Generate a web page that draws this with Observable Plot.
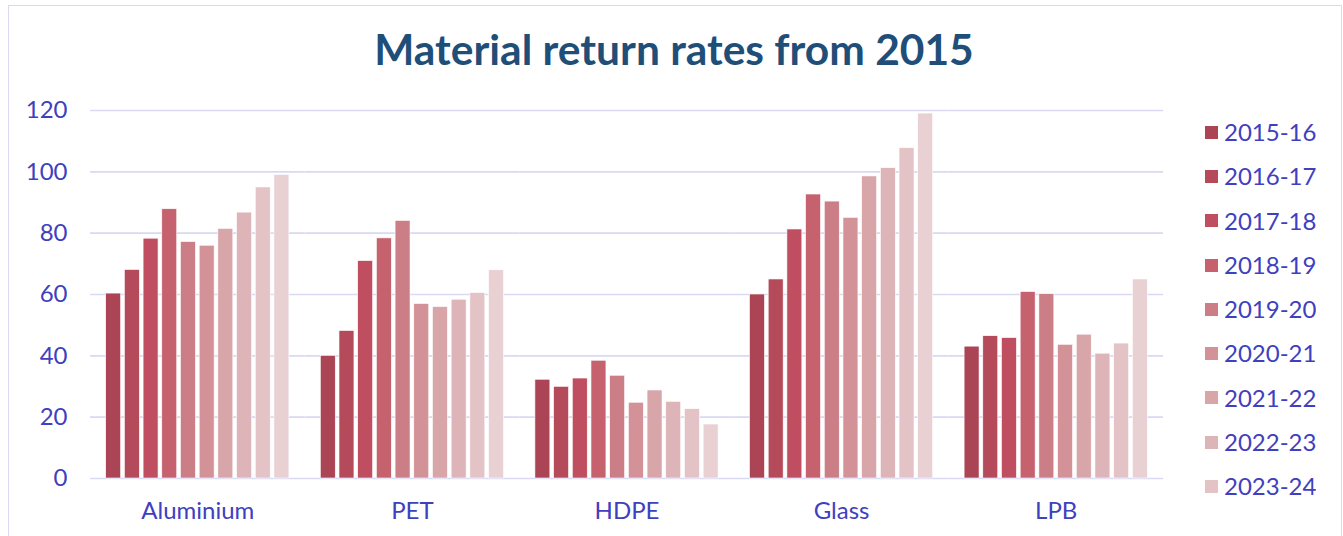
<!DOCTYPE html>
<html>
<head>
<meta charset="utf-8">
<script src="https://cdn.jsdelivr.net/npm/d3@7"></script>
<script src="https://cdn.jsdelivr.net/npm/@observablehq/plot@0.6"></script>
<style>
  html, body { margin: 0; padding: 0; background: #fff; }
  #wrap { position: relative; width: 1343px; height: 536px; overflow: hidden; font-family: Lato, "Open Sans", sans-serif; }
  #border { position: absolute; left: 8px; top: 5px; width: 1334px; height: 620px; border: 1.5px solid #d9d9f3; box-sizing: border-box; }
  #title { position: absolute; left: 0; top: 23px; width: 1348px; text-align: center; font-weight: 700; font-size: 42.5px; line-height: 1.2; color: #1f4e79; }
  #chart { position: absolute; left: 0; top: 0; }
  #legend { position: absolute; left: 1205px; top: 110px; height: 400px; overflow: hidden; }
  .item { display: flex; align-items: center; height: 44.3px; font-size: 24px; line-height: 44.3px; color: #4040bf; white-space: nowrap; }
  .sw { width: 13px; height: 13px; margin-right: 6px; flex: none; }
</style>
</head>
<body>
<div id="wrap">
  <div id="border"></div>
  <div id="chart"></div>
  <div id="title">Material return rates from 2015</div>
  <div id="legend"></div>
</div>
<script>
const categories = ["Aluminium", "PET", "HDPE", "Glass", "LPB"];
const years = ["2015-16", "2016-17", "2017-18", "2018-19", "2019-20", "2020-21", "2021-22", "2022-23", "2023-24", "2024-25"];
const aluminium = [60.3, 68.0, 78.2, 87.8, 77.1, 75.9, 81.4, 86.7, 94.9, 99.0];
const pet       = [40.0, 48.1, 70.9, 78.3, 84.0, 56.9, 55.9, 58.3, 60.5, 67.9];
const hdpe      = [32.2, 29.9, 32.6, 38.4, 33.5, 24.7, 28.7, 25.0, 22.6, 17.6];
const glass     = [60.0, 64.9, 81.2, 92.6, 90.3, 85.0, 98.5, 101.2, 107.7, 119.0];
const lpb       = [43.0, 46.4, 45.8, 60.8, 60.1, 43.6, 46.9, 40.7, 44.0, 64.9];
const colors = ["#ab4555", "#b44a5a", "#bf4f60", "#c6616e", "#cb7e86", "#d39298", "#d8a5a9", "#ddb4b8", "#e3c3c6", "#e8d0d3"];
const yTicks = [0, 20, 40, 60, 80, 100, 120];

const series = [aluminium, pet, hdpe, glass, lpb];
const data = categories.flatMap((c, i) => years.map((y, j) => ({category: c, year: y, value: series[i][j]})));

const chart = Plot.plot({
  width: 1343,
  height: 536,
  marginTop: 110,
  marginBottom: 58,
  marginLeft: 90,
  marginRight: 180,
  style: {fontFamily: "Lato, sans-serif", fontSize: "24px", color: "#4040bf", background: "transparent"},
  fx: {domain: categories, padding: 0, round: false, axis: "bottom", label: null, tickSize: 0, tickPadding: 23},
  x: {domain: years, paddingInner: 0.2, paddingOuter: 0.84, round: false, axis: null},
  y: {domain: [0, 120], ticks: yTicks, tickSize: 0, tickPadding: 23, label: null},
  color: {domain: years, range: colors},
  marks: [
    Plot.ruleY(yTicks, {stroke: "#d9d9f3", strokeWidth: 1.6}),
    Plot.barY(data, {fx: "category", x: "year", y: "value", fill: "year", stroke: "#ffffff", strokeWidth: 0.6})
  ]
});
document.getElementById("chart").appendChild(chart);

// Legend: like the original, entries that do not fit in the legend box are left out.
const legend = document.getElementById("legend");
years.forEach((y, i) => {
  const item = document.createElement("div");
  item.className = "item";
  const sw = document.createElement("span");
  sw.className = "sw";
  sw.style.background = colors[i];
  const t = document.createElement("span");
  t.textContent = y;
  item.appendChild(sw);
  item.appendChild(t);
  legend.appendChild(item);
});
const boxH = legend.clientHeight;
Array.from(legend.children).forEach(el => {
  if (el.offsetTop + el.offsetHeight > boxH + 0.5) el.style.display = "none";
});
</script>
</body>
</html>
